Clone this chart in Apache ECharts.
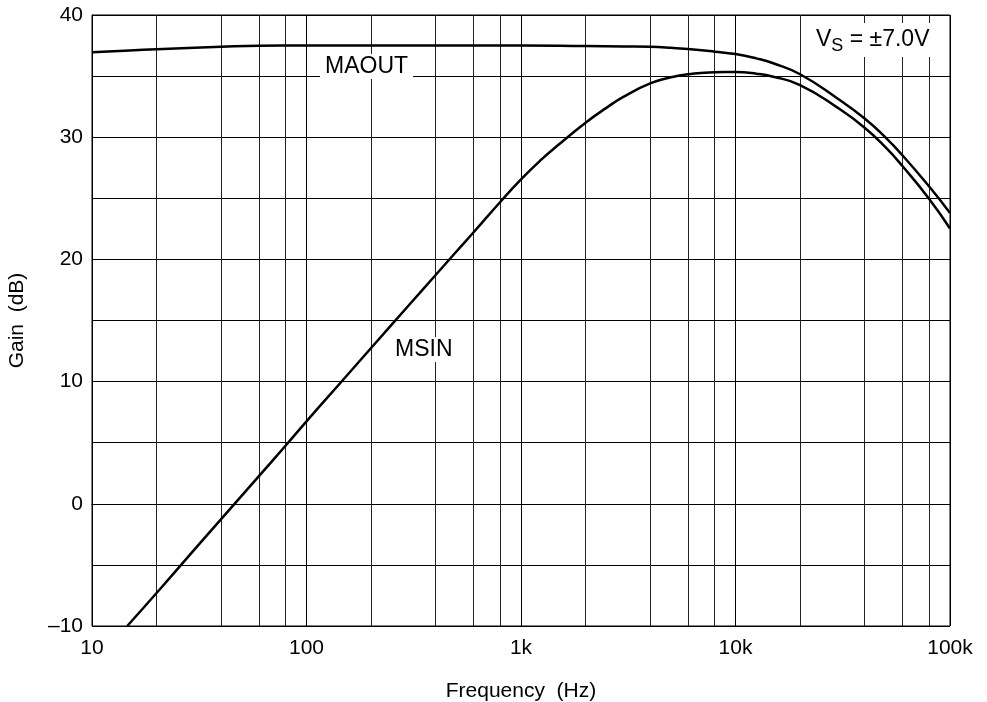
<!DOCTYPE html>
<html>
<head>
<meta charset="utf-8">
<script src="https://cdn.jsdelivr.net/npm/echarts@6/dist/echarts.min.js"></script>
<style>html,body{margin:0;padding:0;background:#fff}#c{width:987px;height:702px}</style>
</head>
<body>
<div id="c"></div>
<script>
// Data
const maoutFreq = [10, 15, 20, 30, 40, 60, 100, 300, 1000, 2000, 3000, 4000, 5000, 6000, 8000, 10000, 12500, 15000, 20000, 30000, 40000, 50000, 60000, 80000, 100000];
const maoutGain = [36.95, 37.1, 37.2, 37.32, 37.4, 37.48, 37.5, 37.5, 37.5, 37.46, 37.43, 37.4, 37.32, 37.22, 37.0, 36.8, 36.45, 36.05, 35.15, 33.15, 31.53, 29.98, 28.52, 25.96, 23.8];
const msinFreq = [14.6, 20, 30, 40, 60, 80, 100, 150, 200, 300, 400, 500, 600, 800, 1000, 1250, 1500, 2000, 2500, 3000, 4000, 5000, 6000, 8000, 10000, 12500, 15000, 20000, 30000, 40000, 50000, 60000, 80000, 100000];
const msinGain = [-10, -7.3, -3.75, -1.25, 2.27, 4.77, 6.75, 10.25, 12.75, 16.25, 18.72, 20.65, 22.2, 24.7, 26.55, 28.2, 29.4, 31.19, 32.4, 33.3, 34.4, 34.9, 35.15, 35.32, 35.33, 35.2, 34.95, 34.27, 32.4, 30.78, 29.18, 27.64, 24.95, 22.53];
const minorFreqs = [20, 40, 60, 80, 200, 400, 600, 800, 2000, 4000, 6000, 8000, 20000, 40000, 60000, 80000];
const xTickLabels = {10: '10', 100: '100', 1000: '1k', 10000: '10k', 100000: '100k'};

const FONT = 'Liberation Sans, Arial, Helvetica, sans-serif';
const chart = echarts.init(document.getElementById('c'), null, {renderer: 'canvas'});

const pairs = (xs, ys) => xs.map((x, i) => [x, ys[i]]);

chart.setOption({
  animation: false,
  backgroundColor: '#fff',
  textStyle: {fontFamily: FONT, color: '#000'},
  grid: {left: 92, right: 37, top: 15, bottom: 76, show: true, borderColor: '#000', borderWidth: 1, containLabel: false, outerBoundsMode: 'none'},
  xAxis: {
    type: 'log', logBase: 10, min: 10, max: 100000,
    name: 'Frequency  (Hz)', nameLocation: 'middle', nameGap: 55,
    nameTextStyle: {fontFamily: FONT, fontSize: 21, color: '#000'},
    axisLine: {show: true, lineStyle: {color: '#000', width: 1}},
    axisTick: {show: false},
    axisLabel: {fontFamily: FONT, fontSize: 21, color: '#000', margin: 12,
      formatter: v => xTickLabels[Math.round(v)] || ''},
    splitLine: {show: true, lineStyle: {color: '#000', width: 1}},
    minorTick: {show: false}, minorSplitLine: {show: false}
  },
  yAxis: {
    type: 'value', min: -10, max: 40, interval: 5,
    name: 'Gain  (dB)', nameLocation: 'middle', nameGap: 64, nameRotate: 90,
    nameTextStyle: {fontFamily: FONT, fontSize: 21, color: '#000'},
    axisLine: {show: true, lineStyle: {color: '#000', width: 1}},
    axisTick: {show: false},
    axisLabel: {fontFamily: FONT, fontSize: 21, color: '#000', margin: 9,
      formatter: v => (v % 10 === 0 ? (v < 0 ? '\u2013' + Math.abs(v) : String(v)) : '')},
    splitLine: {show: true, lineStyle: {color: '#000', width: 1}}
  },
  series: [
    {
      name: 'grid', type: 'line', data: [], silent: true,
      markLine: {
        silent: true, symbol: ['none', 'none'], label: {show: false},
        lineStyle: {color: '#222', width: 1, type: 'solid'},
        emphasis: {disabled: true},
        data: minorFreqs.map(f => ({xAxis: f}))
      }
    },
    {
      name: 'MAOUT', type: 'line', data: pairs(maoutFreq, maoutGain),
      showSymbol: false, symbol: 'none', smooth: 0.5,
      lineStyle: {color: '#000', width: 2.5}, z: 5
    },
    {
      name: 'MSIN', type: 'line', data: pairs(msinFreq, msinGain),
      showSymbol: false, symbol: 'none', smooth: 0.5,
      lineStyle: {color: '#000', width: 2.5}, z: 5
    }
  ],
  graphic: [
    {type: 'text', left: 320, top: 54, z: 100,
      style: {text: 'MAOUT', fontFamily: FONT, fontSize: 23, fill: '#000', backgroundColor: '#fff', padding: [1, 5, 1, 5]}},
    {type: 'text', left: 390, top: 337, z: 100,
      style: {text: 'MSIN', fontFamily: FONT, fontSize: 23, fill: '#000', backgroundColor: '#fff', padding: [1, 5, 1, 5]}},
    {type: 'text', left: 806, top: 23, z: 100,
      style: {
        text: '{a|V}{b|S}{a| = \u00b17.0V}',
        backgroundColor: '#fff', padding: [2, 12, 2, 10],
        rich: {
          a: {fontFamily: FONT, fontSize: 23, fill: '#000', color: '#000'},
          b: {fontFamily: FONT, fontSize: 18, fill: '#000', color: '#000', padding: [12, 0, 0, 0]}
        }
      }}
  ]
});
</script>
</body>
</html>
